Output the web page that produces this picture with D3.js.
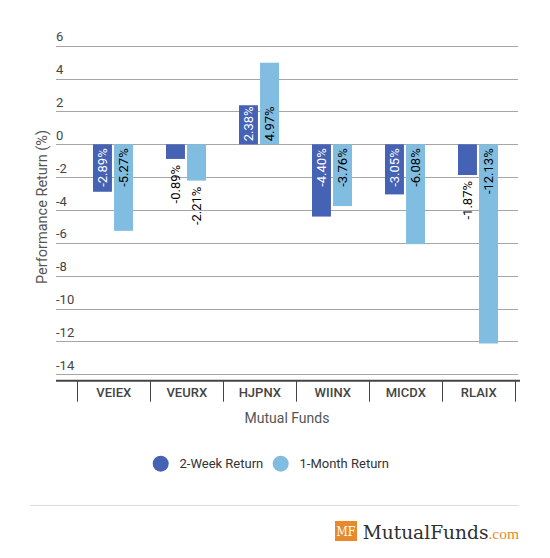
<!DOCTYPE html>
<html>
<head>
<meta charset="utf-8">
<script src="https://cdn.jsdelivr.net/npm/d3@7"></script>
<style>
  html, body { margin: 0; padding: 0; background: #fff; }
  svg { display: block; font-family: Roboto, "Noto Sans", sans-serif; }
</style>
</head>
<body>
<svg id="chart" width="550" height="558"></svg>
<script>
const categories = ["VEIEX", "VEURX", "HJPNX", "WIINX", "MICDX", "RLAIX"];
const seriesNames = ["2-Week Return", "1-Month Return"];
const twoWeek = [-2.89, -0.89, 2.38, -4.40, -3.05, -1.87];
const oneMonth = [-5.27, -2.21, 4.97, -3.76, -6.08, -12.13];
const yTicks = [6, 4, 2, 0, -2, -4, -6, -8, -10, -12, -14];
const colors = ["#4562b4", "#80bde0"];
const labelColors = ["#ffffff", "#000000"];

const svg = d3.select("#chart");

const gridLeft = 56, gridRight = 518;
const y = d3.scaleLinear().domain([-14, 6]).range([374.2, 45.8]);
const x0 = d3.scaleBand().domain(categories).range([77.3, 515.3]).padding(0);
const x1 = d3.scaleBand().domain(seriesNames).range([15.7, 55.7]).paddingInner(0.1);

// gridlines
const grid = svg.append("g");
grid.selectAll("line").data(yTicks).join("line")
  .attr("x1", gridLeft).attr("x2", gridRight)
  .attr("y1", d => Math.round(y(d)) + 0.5).attr("y2", d => Math.round(y(d)) + 0.5)
  .attr("stroke", "#a6a6a6").attr("stroke-width", 1);
grid.selectAll("text").data(yTicks).join("text")
  .attr("x", gridLeft).attr("y", d => y(d) - 4.5)
  .attr("font-size", 13).attr("fill", "#444")
  .text(d => d);

// y title
svg.append("text")
  .attr("transform", `translate(46.5,${(y(-14) + y(6)) / 2 - 3}) rotate(-90)`)
  .attr("text-anchor", "middle")
  .attr("font-size", 14.5).attr("fill", "#555")
  .text("Performance Return (%)");

// data
const data = categories.map((c, i) => ({ cat: c, values: [twoWeek[i], oneMonth[i]] }));
const groups = svg.append("g").selectAll("g").data(data).join("g")
  .attr("transform", d => `translate(${x0(d.cat)},0)`);

const items = groups.selectAll("g.item")
  .data(d => d.values.map((v, k) => ({ v, k, name: seriesNames[k] })))
  .join("g").attr("class", "item");

items.append("rect")
  .attr("x", d => x1(d.name))
  .attr("width", x1.bandwidth())
  .attr("y", d => Math.min(y(0), y(d.v)))
  .attr("height", d => Math.abs(y(d.v) - y(0)))
  .attr("fill", d => colors[d.k]);

items.append("text")
  .attr("font-size", 13)
  .attr("dy", "0.35em")
  .text(d => d.v.toFixed(2) + "%")
  .each(function (d) {
    const t = d3.select(this);
    const len = this.getComputedTextLength();
    const h = Math.abs(y(d.v) - y(0));
    const cx = x1(d.name) + x1.bandwidth() / 2;
    const inside = len + 3 <= h;
    let ay, anchor, fill;
    if (inside) {
      fill = labelColors[d.k];
      if (d.v < 0) { ay = y(0) + 4; anchor = "end"; }
      else { ay = y(0) - 3; anchor = "start"; }
    } else {
      fill = "#000";
      if (d.v < 0) { ay = y(d.v) + 6; anchor = "end"; }
      else { ay = y(d.v) - 6; anchor = "start"; }
    }
    t.attr("transform", `translate(${cx},${ay}) rotate(-90)`)
      .attr("text-anchor", anchor)
      .attr("fill", fill);
  });

// x axis
const axisY = y(-14) + 6.5;
svg.append("line")
  .attr("x1", gridLeft).attr("x2", 520)
  .attr("y1", axisY).attr("y2", axisY)
  .attr("stroke", "#444").attr("stroke-width", 2);
const seps = categories.map(c => x0(c)).concat([x0.range()[1]]);
svg.append("g").selectAll("line").data(seps).join("line")
  .attr("x1", d => Math.round(d) + 0.5).attr("x2", d => Math.round(d) + 0.5)
  .attr("y1", axisY).attr("y2", axisY + 21)
  .attr("stroke", "#444").attr("stroke-width", 1);
svg.append("g").selectAll("text").data(categories).join("text")
  .attr("x", d => x0(d) + x0.bandwidth() / 2)
  .attr("y", axisY + 12)
  .attr("dy", "0.35em")
  .attr("text-anchor", "middle")
  .attr("font-size", 13).attr("font-weight", 500).attr("fill", "#444")
  .text(d => d);

svg.append("text")
  .attr("x", (gridLeft + gridRight) / 2).attr("y", 418)
  .attr("dy", "0.35em").attr("text-anchor", "middle")
  .attr("font-size", 14).attr("fill", "#555")
  .text("Mutual Funds");

// legend
const legendX = [160.7, 280.7];
const legend = svg.append("g").selectAll("g").data(seriesNames).join("g")
  .attr("transform", (d, i) => `translate(${legendX[i]},463.7)`);
legend.append("circle").attr("r", 8).attr("fill", (d, i) => colors[i]);
legend.append("text").attr("x", 18.8).attr("dy", "0.35em")
  .attr("font-size", 13).attr("fill", "#333").text(d => d);

// footer separator
svg.append("line").attr("x1", 30).attr("x2", 519)
  .attr("y1", 505.5).attr("y2", 505.5)
  .attr("stroke", "#dcdcdc").attr("stroke-width", 1);

// logo
const logo = svg.append("g");
logo.append("rect").attr("x", 335).attr("y", 521).attr("width", 22).attr("height", 20).attr("fill", "#e8892b");
logo.append("text").attr("x", 346).attr("y", 535.7).attr("text-anchor", "middle")
  .attr("font-family", "'DejaVu Serif', serif").attr("font-size", 12)
  .attr("textLength", 19).attr("lengthAdjust", "spacingAndGlyphs")
  .attr("fill", "#fff").text("MF");
const brand = logo.append("text").attr("x", 519).attr("y", 539).attr("text-anchor", "end");
brand.append("tspan")
  .attr("font-family", "'DejaVu Serif', serif").attr("font-size", 18.6)
  .attr("fill", "#2f2f2f").text("MutualFunds");
brand.append("tspan")
  .attr("font-family", "'Liberation Serif', serif").attr("font-size", 15.5)
  .attr("fill", "#e8892b").text(".com");
</script>
</body>
</html>
